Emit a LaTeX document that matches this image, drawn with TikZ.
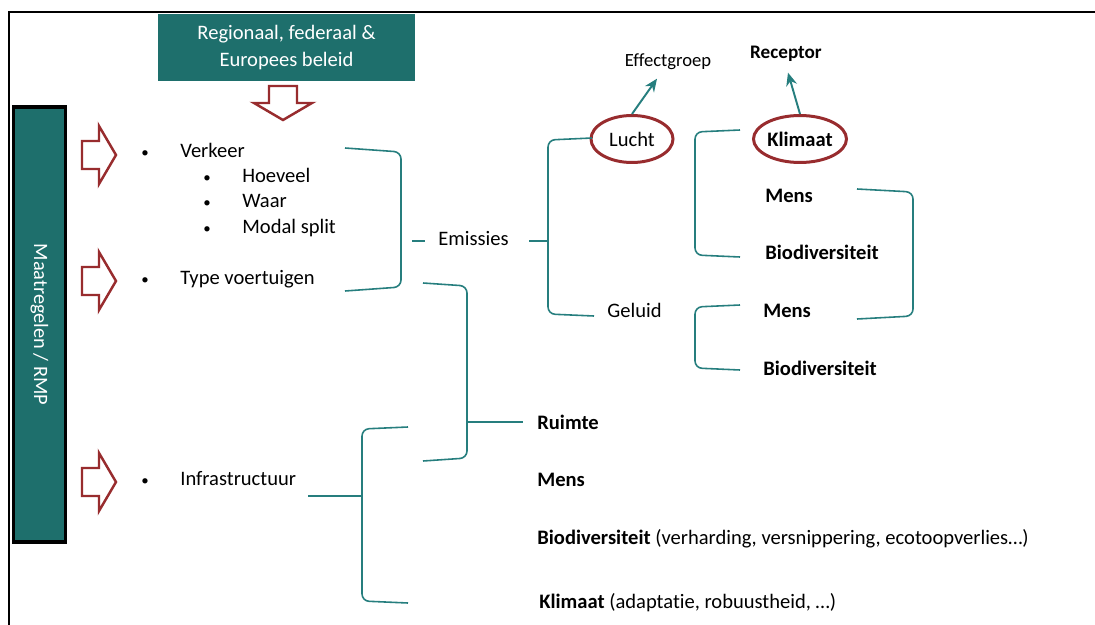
\documentclass[tikz,border=0pt]{standalone}
\usepackage{fontspec}
\setmainfont{Carlito}[Ligatures={NoCommon}]
\usetikzlibrary{shapes.geometric, arrows.meta, positioning, calc}
\definecolor{boxteal}{RGB}{30, 111, 108}
\definecolor{lineteal}{RGB}{38, 126, 126}
\definecolor{arrowred}{RGB}{152, 44, 46}
\tikzset{
  >=Stealth,
  bracketline/.style={draw=lineteal, line width=0.9pt, rounded corners=4pt},
  pointer/.style={-{Stealth[length=2.6mm, width=2.2mm]}, line width=1.1pt, lineteal},
  blockarrow/.pic={
    \draw[arrowred, line width=1.4pt, fill=white, line join=miter]
      (0,-14) -- (17,-14) -- (17,-29) -- (34,0) -- (17,29) -- (17,14) -- (0,14) -- cycle;
  },
  itemtext/.style={anchor=west, inner sep=0pt, text height=1.5ex, text depth=.25ex, yshift=-0.04cm,
    font=\fontsize{11.7}{14}\selectfont},
  dot/.style={anchor=west, inner sep=0pt, text height=1.5ex, text depth=.25ex, yshift=-0.04cm,
    font=\fontsize{8.5}{10}\selectfont},
  ring/.style={ellipse, draw=arrowred, line width=1.7pt, inner sep=0pt, minimum height=0.94cm,
    font=\fontsize{11.7}{14}\selectfont},
  smalllabel/.style={inner sep=0pt, text height=1.5ex, text depth=.25ex}
}
\begin{document}
\begin{tikzpicture}[x=0.02cm, y=-0.02cm]
    \useasboundingbox (0,0) rectangle (1095,625);
    \fill[white] (0,0) rectangle (1095,625);
    % frame
    \draw[line width=1.1pt] (9,625) -- (9,12) -- (1095,12);

    % policy box and arrow
    \node[fill=boxteal, text=white, minimum width=5.14cm, minimum height=1.34cm, align=center,
        font=\fontsize{11.7}{15}\selectfont] (beleid) at (286.5,47.5) {Regionaal, federaal \&\\Europees beleid};
    \pic[rotate=-90] (beleidpijl) at (283,86) {blockarrow};

    % measures bar
    \node[draw=black, line width=1.8pt, fill=boxteal, text=white, rotate=-90, minimum width=8.7cm,
        minimum height=1.04cm, font=\fontsize{11.6}{14}\selectfont] (rmp) at (39.5,324.5) {Maatregelen / RMP};
    \pic (pijlverkeer) at (82,155) {blockarrow};
    \pic (pijltype) at (82,281) {blockarrow};
    \pic (pijlinfra) at (82,482) {blockarrow};

    % measures
    \node[dot] (bverkeer) at (141,150) {•};
    \node[itemtext] (verkeer) at (180,150) {Verkeer};
    \node[dot] (bhoeveel) at (203,175) {•};
    \node[itemtext] (hoeveel) at (242,175) {Hoeveel};
    \node[dot] (bwaar) at (203,200) {•};
    \node[itemtext] (waar) at (242,200) {Waar};
    \node[dot] (bmodal) at (203,226) {•};
    \node[itemtext] (modal) at (242,226) {Modal split};
    \node[dot] (btype) at (141,277) {•};
    \node[itemtext] (type) at (180,277) {Type voertuigen};
    \node[dot] (binfra) at (141,478) {•};
    \node[itemtext] (infra) at (180,478) {Infrastructuur};

    % effect groups
    \node[itemtext] (emissies) at (438,238) {Emissies};
    \node[ring, minimum width=1.64cm] (lucht) at (632,139) {Lucht};
    \node[itemtext] (geluid) at (607,310) {Geluid};
    \node[smalllabel, font=\fontsize{10.6}{13}\selectfont] (effect) at (668,61) {Effectgroep};

    % receptors
    \node[ring, minimum width=1.86cm] (klimaat) at (800,139) {\textbf{Klimaat}};
    \node[smalllabel, font=\fontsize{10.9}{13}\bfseries] (receptor) at (786,53) {Receptor};
    \node[itemtext, font=\fontsize{11.7}{14}\bfseries] (mensA) at (765,195) {Mens};
    \node[itemtext, font=\fontsize{11.7}{14}\bfseries] (bioA) at (765,252) {Biodiversiteit};
    \node[itemtext, font=\fontsize{11.7}{14}\bfseries] (mensB) at (763,310) {Mens};
    \node[itemtext, font=\fontsize{11.7}{14}\bfseries] (bioB) at (763,368) {Biodiversiteit};
    \node[itemtext] (ruimte) at (537,422) {\textbf{Ruimte}};
    \node[itemtext] (mensC) at (537,479) {\textbf{Mens}};
    \node[itemtext] (bioC) at (537,537) {\textbf{Biodiversiteit} (verharding, versnippering, ecotoopverlies…)};
    \node[itemtext] (klimaatC) at (539,601) {\textbf{Klimaat} (adaptatie, robuustheid, …)};

    \draw[pointer] (lucht.north) -- ($(effect.south)+(-11,10)$);
    \draw[pointer] (klimaat.north) -- ($(receptor.south)+(2,12)$);

    % brackets
    \draw[bracketline] (345,148) -- (401,152) -- (401,287) -- (345,291);
    \draw[bracketline] (412,241) -- (425,241);
    \draw[bracketline] (529,241) -- (548,241);
    \draw[bracketline] (592,138) -- (548,140) -- (548,314) -- (594,316);
    \draw[bracketline] (740,130) -- (695,132) -- (695,255) -- (740,257);
    \draw[bracketline] (857,189) -- (913,192) -- (913,316) -- (857,319);
    \draw[bracketline] (740,305) -- (695,307) -- (695,368) -- (740,370);
    \draw[bracketline] (423,283) -- (467,286) -- (467,458) -- (423,461);
    \draw[bracketline] (467,422) -- (523,422);
    \draw[bracketline] (408,427) -- (362,429) -- (362,601) -- (408,603);
    \draw[bracketline] (308,496) -- (362,496);
\end{tikzpicture}
\end{document}
